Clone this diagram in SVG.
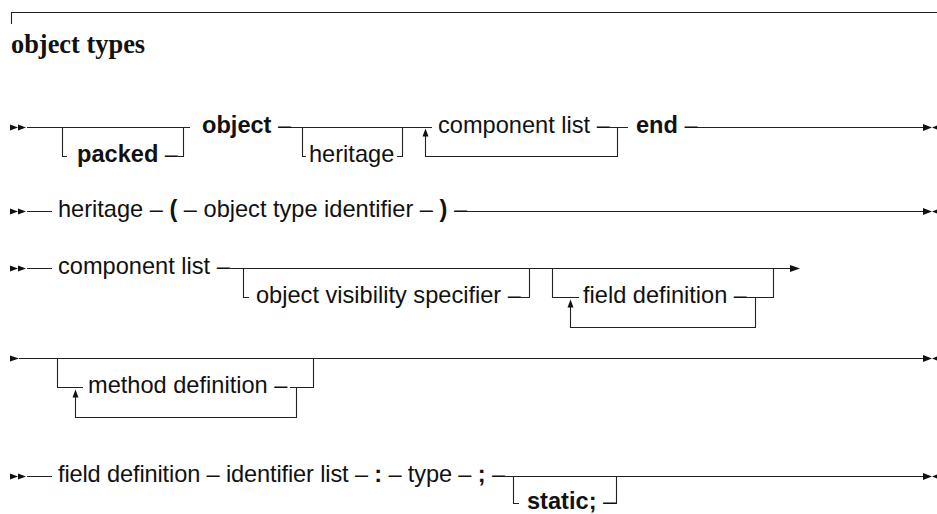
<svg xmlns="http://www.w3.org/2000/svg" width="937" height="514" viewBox="0 0 937 514">
<style>
 .t{font-family:"Liberation Sans",Arial,sans-serif;font-size:23.6px;fill:#111}
 .b{font-weight:bold}
 .title{font-family:"Liberation Serif","Times New Roman",serif;font-weight:bold;font-size:26.4px;fill:#111}
 .ln{stroke:#222;stroke-width:1.1;fill:none}
 .ah{fill:#111}
</style>
<defs>
 <path id="start2" d="M0,-3 L8,0 L0,3 Z M8,-3 L16,0 L8,3 Z"/>
 <path id="start1" d="M0,-3 L9,0 L0,3 Z"/>
 <path id="endm" d="M0,-3.5 L9,0 L0,3.5 Z M9,0 L18,-3.5 L18,3.5 Z"/>
 <path id="up" d="M0,0 L3,8 L-3,8 Z"/>
 <path id="arrR" d="M0,-3.5 L10,0 L0,3.5 Z"/>
</defs>
<rect width="937" height="514" fill="#fff"/>
<g id="frame">
 <path class="ln" d="M11.5,24 V12.5 H937"/>
 <text id="title" class="title" x="11" y="53">object types</text>
</g>
<g id="connectors">
 <path class="ln" d="M27,127.5 H190 M62.5,127.5 V156.5 H67 M178,156.5 H183.5 V127.5 M290,127.5 H432 M302.5,127.5 V156.5 H306 M397,156.5 H402.5 V127.5 M610,127.5 H628 M617.5,127.5 V156.5 H425.5 V136 M697,127.5 H923"/>
 <path class="ln" d="M27,211.5 H52 M467,211.5 H923"/>
 <path class="ln" d="M27,268.5 H52 M230,268.5 H790 M243.5,268.5 V297.5 H249 M521,297.5 H529.5 V268.5 M552.5,268.5 V297.5 H579 M570.5,307 V327.5 H755.5 V297.5 M747,297.5 H773.5 V268.5"/>
 <path class="ln" d="M19,358.5 H923 M57.5,358.5 V387.5 H83 M75.5,397 V417.5 H296.5 V387.5 M290,387.5 H313.5 V358.5"/>
 <path class="ln" d="M27,476.5 H52 M505,476.5 H923 M513.5,476.5 V503.5 H519 M610,503.5 H616.5 V476.5"/>
 <g class="ah">
  <use href="#start2" x="10" y="127.5"/>
  <use href="#endm" x="923" y="127.5"/>
  <use href="#up" x="425.5" y="128.5"/>
  <use href="#start2" x="10" y="211.5"/>
  <use href="#endm" x="923" y="211.5"/>
  <use href="#start2" x="10" y="268.5"/>
  <use href="#arrR" x="790" y="268.5"/>
  <use href="#up" x="570.5" y="299.5"/>
  <use href="#start1" x="10" y="358.5"/>
  <use href="#endm" x="923" y="358.5"/>
  <use href="#up" x="75.5" y="389.5"/>
  <use href="#start2" x="10" y="476.5"/>
  <use href="#endm" x="923" y="476.5"/>
 </g>
</g>
<g id="n-packed"><text class="t" x="77" y="162"><tspan class="b">packed</tspan> –</text></g>
<g id="n-object"><text class="t" x="202" y="133"><tspan class="b">object</tspan> –</text></g>
<g id="n-heritage-opt"><text class="t" x="309" y="162">heritage</text></g>
<g id="n-component-list-1"><text class="t" x="438" y="133">component list –</text></g>
<g id="n-end"><text class="t" x="636" y="133"><tspan class="b">end</tspan> –</text></g>
<g id="n-heritage-rule"><text class="t" x="58" y="217" textLength="409">heritage – <tspan class="b">(</tspan> – object type identifier – <tspan class="b">)</tspan> –</text></g>
<g id="n-component-list-rule"><text class="t" x="58" y="274">component list –</text></g>
<g id="n-visibility"><text class="t" x="256" y="303">object visibility specifier –</text></g>
<g id="n-field-definition"><text class="t" x="583" y="303">field definition –</text></g>
<g id="n-method-definition"><text class="t" x="88" y="393">method definition –</text></g>
<g id="n-field-definition-rule"><text class="t" x="58" y="482" textLength="447">field definition – identifier list – <tspan class="b">:</tspan> – type – <tspan class="b">;</tspan> –</text></g>
<g id="n-static"><text class="t" x="527" y="509"><tspan class="b">static;</tspan> –</text></g>
</svg>
